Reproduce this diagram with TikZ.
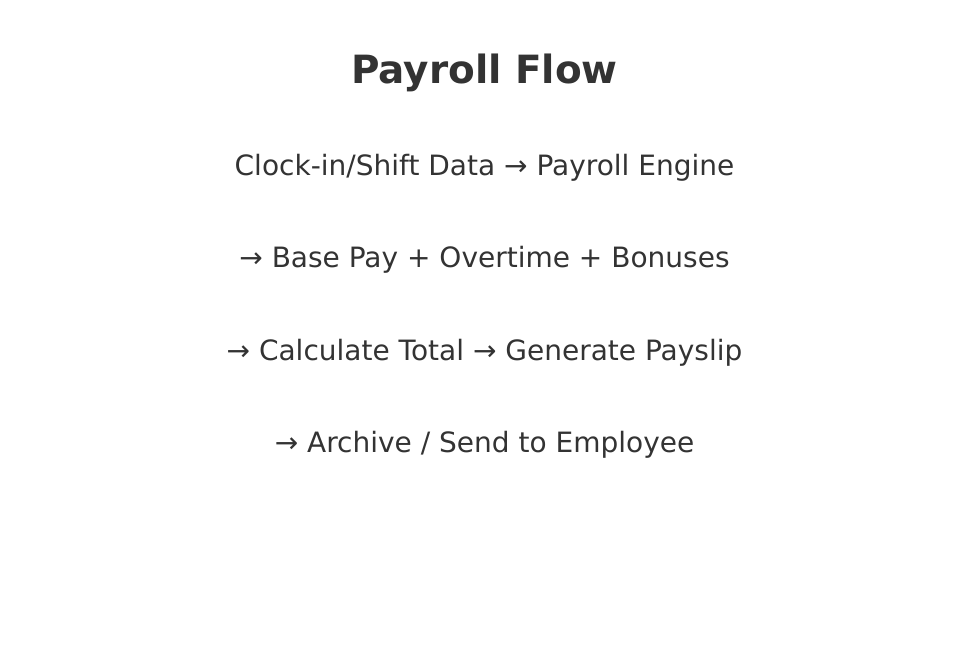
\documentclass[tikz,border=0pt]{standalone}
\usepackage{fontspec}
\setmainfont{DejaVu Sans}
\definecolor{txt}{HTML}{333333}
\begin{document}
\begin{tikzpicture}[x=1pt,y=1pt,
  line/.style={text=txt,font=\fontsize{28}{32}\selectfont,anchor=base,inner sep=0pt},
  titlestyle/.style={text=txt,font=\fontsize{38.9}{44}\bfseries\selectfont,anchor=base,inner sep=0pt}]
\useasboundingbox (0,0) rectangle (969,656);
\node[titlestyle] (title) at (484.5,656-84) {Payroll Flow};
\node[line] (l1) at (484.5,656-175.5) {Clock-in/Shift Data → Payroll Engine};
\node[line] (l2) at (484.5,656-267.5) {→ Base Pay + Overtime + Bonuses};
\node[line] (l3) at (484.5,656-360.5) {→ Calculate Total → Generate Payslip};
\node[line] (l4) at (484.5,656-452.5) {→ Archive / Send to Employee};
\end{tikzpicture}
\end{document}
